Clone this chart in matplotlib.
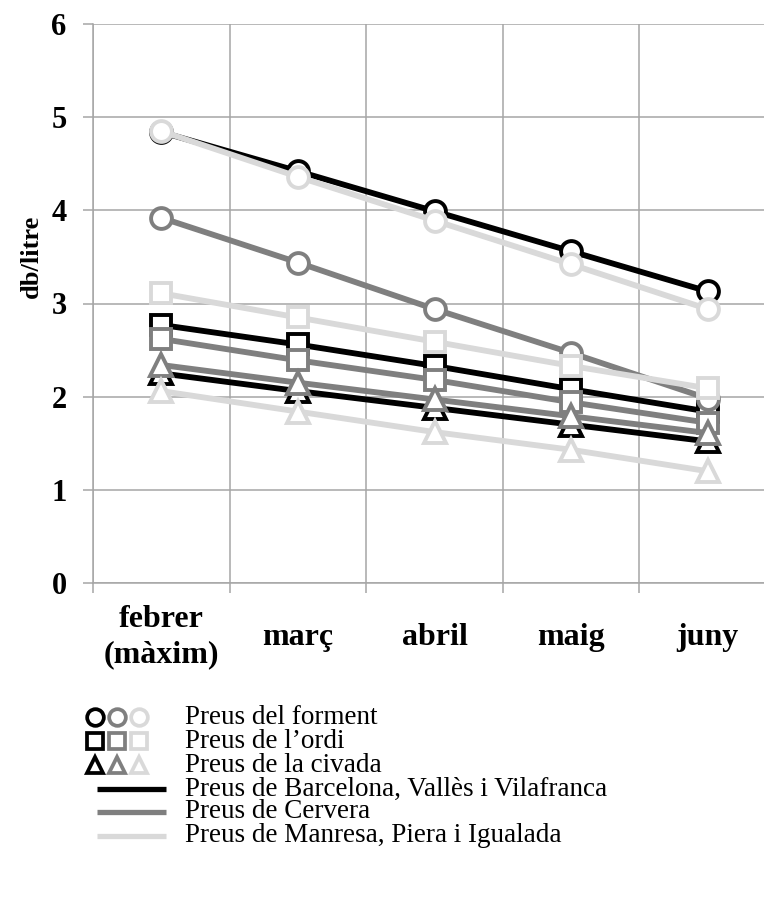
import matplotlib
matplotlib.use('Agg')
import matplotlib.pyplot as plt
import numpy as np

# ---------------- data ----------------
months = ['febrer\n(màxim)', 'març', 'abril', 'maig', 'juny']

# Preus del forment (circles)
forment_bcn = [4.84, 4.42, 3.99, 3.56, 3.13]
forment_cervera = [3.92, 3.44, 2.94, 2.47, 1.98]
forment_manresa = [4.85, 4.36, 3.89, 3.42, 2.94]
# Preus de l'ordi (squares)
ordi_bcn = [2.77, 2.56, 2.33, 2.08, 1.84]
ordi_cervera = [2.62, 2.39, 2.18, 1.94, 1.72]
ordi_manresa = [3.11, 2.85, 2.59, 2.33, 2.09]
# Preus de la civada (triangles)
civada_bcn = [2.25, 2.06, 1.88, 1.70, 1.52]
civada_cervera = [2.34, 2.15, 1.97, 1.79, 1.61]
civada_manresa = [2.06, 1.84, 1.62, 1.43, 1.20]

yticks = [0, 1, 2, 3, 4, 5, 6]
ylabel = 'db/litre'

legend_markers = ['Preus del forment', 'Preus de l\u2019ordi', 'Preus de la civada']
legend_lines = ['Preus de Barcelona, Vallès i Vilafranca', 'Preus de Cervera',
                'Preus de Manresa, Piera i Igualada']

# ---------------- style ----------------
BLACK = '#000000'
GRAY = '#7f7f7f'
LIGHT = '#d9d9d9'
GRID = '#a6a6a6'
FONT = 'Liberation Serif'

W, H = 764, 898
fig = plt.figure(figsize=(W / 100, H / 100), dpi=100)
fig.patch.set_facecolor('white')

x0, x1 = 93, 776
y_top, y_bot = 24, 583
ax = fig.add_axes([x0 / W, 1 - y_bot / H, (x1 - x0) / W, (y_bot - y_top) / H])

x = np.arange(len(months))

series = [
    (forment_bcn, BLACK, 'o'), (ordi_bcn, BLACK, 's'), (civada_bcn, BLACK, '^'),
    (forment_cervera, GRAY, 'o'), (ordi_cervera, GRAY, 's'), (civada_cervera, GRAY, '^'),
    (forment_manresa, LIGHT, 'o'), (ordi_manresa, LIGHT, 's'), (civada_manresa, LIGHT, '^'),
]
for i, (vals, col, mk) in enumerate(series):
    ms = 15 if mk != '^' else 16
    ax.plot(x, vals, color=col, lw=4.2, marker=mk, ms=ms, mew=2.8,
            mfc='white', mec=col, zorder=3 + i * 0.1, clip_on=False,
            solid_joinstyle='round')

ax.set_xlim(-0.5, 4.5)
ax.set_ylim(0, 6)
ax.set_yticks(yticks)
ax.set_yticklabels([str(t) for t in yticks], fontfamily=FONT, fontweight='bold', fontsize=22)
ax.set_xticks(x)
ax.set_xticklabels(months, fontfamily=FONT, fontweight='bold', fontsize=23,
                   va='center', linespacing=1.3)
ax.set_xticks(np.arange(-0.5, 5.0, 1.0), minor=True)
ax.tick_params(axis='x', which='major', length=0, pad=39)
ax.tick_params(axis='x', which='minor', length=7, width=1.1, color=GRID, direction='out')
ax.tick_params(axis='y', length=7, width=1.1, color=GRID, direction='out', pad=12)
ax.grid(True, axis='y', color=GRID, lw=1.1)
ax.grid(True, axis='x', which='minor', color=GRID, lw=1.1)
ax.set_axisbelow(True)
for s in ['top', 'right']:
    ax.spines[s].set_visible(False)
for s in ['left', 'bottom']:
    ax.spines[s].set_color(GRID)
    ax.spines[s].set_linewidth(1.1)

fig.text(31 / W, 1 - 256 / H, ylabel, rotation=90, ha='center', va='center',
         fontfamily=FONT, fontweight='bold', fontsize=19)

# ---------------- legend (drawn in pixel coordinates) ----------------
lax = fig.add_axes([0, 0, 1, 1])
lax.set_xlim(0, W)
lax.set_ylim(H, 0)
lax.axis('off')

rows = [717, 741, 765, 789, 812, 836]
cols = [BLACK, GRAY, LIGHT]
mks = ['o', 's', '^']
mx = [95, 117, 139]
for r, (lab, mk) in enumerate(zip(legend_markers, mks)):
    for c, xx in zip(cols, mx):
        lax.plot([xx], [rows[r]], marker=mk, ms=12, mew=2.7, mfc='white', mec=c,
                 ls='none')
    lax.text(185, rows[r], lab, ha='left', va='center', fontfamily=FONT, fontsize=19.5)
for k, (lab, c) in enumerate(zip(legend_lines, cols)):
    r = rows[3 + k]
    lax.plot([97, 166], [r, r], color=c, lw=3.8, solid_capstyle='butt')
    lax.text(185, r, lab, ha='left', va='center', fontfamily=FONT, fontsize=19.5)

fig.savefig('out.png', dpi=100)
